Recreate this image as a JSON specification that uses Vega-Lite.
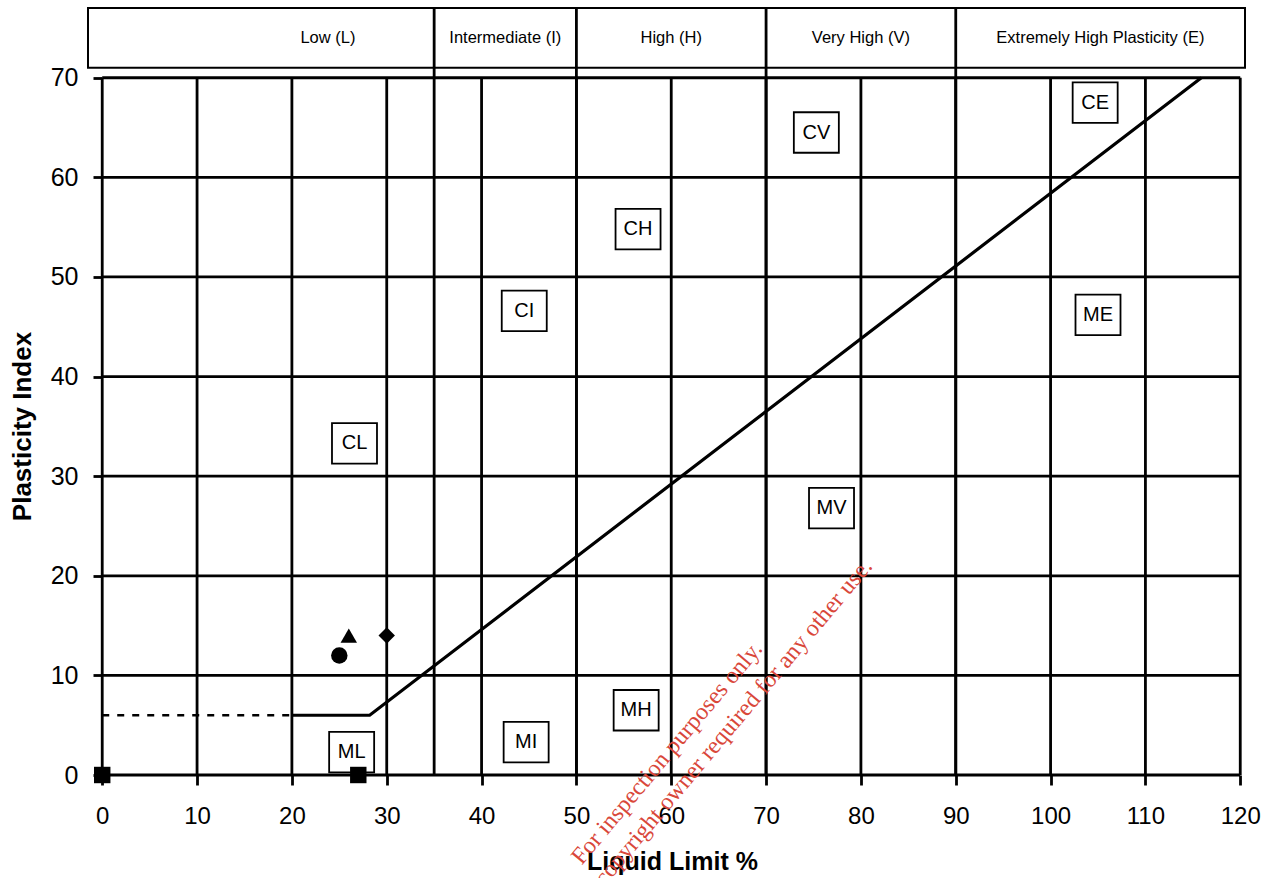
{
  "$schema": "https://vega.github.io/schema/vega-lite/v6.json",
  "width": 1157,
  "height": 767,
  "autosize": {"type": "none"},
  "padding": {"left": 88, "top": 8, "right": 28, "bottom": 103},
  "background": "white",
  "config": {
    "view": {"stroke": null},
    "font": "Liberation Sans",
    "axisX": {
      "domain": false, "grid": false, "ticks": true, "tickSize": 10, "tickWidth": 2.8, "tickColor": "black",
      "labelFont": "Liberation Sans", "labelFontSize": 24, "labelColor": "black", "labelPadding": 19, "labelFlush": false,
      "titleFont": "Liberation Sans", "titleFontSize": 25, "titleFontWeight": "bold", "titleColor": "black",
      "titleX": 584, "titleY": 86, "titleBaseline": "middle", "titleAlign": "center"
    },
    "axisY": {
      "domain": false, "grid": false, "ticks": true, "tickSize": 9, "tickWidth": 2.8, "tickColor": "black", "offset": -14,
      "labelFont": "Liberation Sans", "labelFontSize": 25, "labelColor": "black", "labelPadding": 15, "labelFlush": false,
      "titleFont": "Liberation Sans", "titleFontSize": 26, "titleFontWeight": "bold", "titleColor": "black",
      "titleX": -80, "titleY": 418, "titleBaseline": "middle", "titleAlign": "center", "titleAngle": -90
    }
  },
  "datasets": {
    "vgrid": [{"ll": 0}, {"ll": 10}, {"ll": 20}, {"ll": 30}, {"ll": 40}, {"ll": 50}, {"ll": 60}, {"ll": 70}, {"ll": 80}, {"ll": 90}, {"ll": 100}, {"ll": 110}, {"ll": 120}],
    "hgrid": [{"pi": 0}, {"pi": 10}, {"pi": 20}, {"pi": 30}, {"pi": 40}, {"pi": 50}, {"pi": 60}, {"pi": 70}],
    "bounds": [{"ll": 35}, {"ll": 50}, {"ll": 70}, {"ll": 90}],
    "classes": [
      {"label": "Low (L)", "ll": 23.8},
      {"label": "Intermediate (I)", "ll": 42.5},
      {"label": "High (H)", "ll": 60},
      {"label": "Very High (V)", "ll": 80},
      {"label": "Extremely High Plasticity (E)", "ll": 105.25}
    ],
    "zones": [
      {"code": "CL", "ll": 26.6, "pi": 33.3},
      {"code": "CI", "ll": 44.5, "pi": 46.6},
      {"code": "CH", "ll": 56.5, "pi": 54.8},
      {"code": "CV", "ll": 75.3, "pi": 64.5},
      {"code": "CE", "ll": 104.7, "pi": 67.5},
      {"code": "ME", "ll": 105, "pi": 46.2},
      {"code": "MV", "ll": 76.9, "pi": 26.8},
      {"code": "MH", "ll": 56.3, "pi": 6.5},
      {"code": "MI", "ll": 44.7, "pi": 3.3},
      {"code": "ML", "ll": 26.3, "pi": 2.3}
    ],
    "aline": [{"ll": 20, "pi": 6}, {"ll": 28.2, "pi": 6}, {"ll": 115.9, "pi": 70}],
    "aline_ext": [{"ll": 0, "pi": 6}, {"ll": 20, "pi": 6}],
    "samples": [
      {"sample": "1", "ll": 0, "pi": 0, "shape": "square"},
      {"sample": "2", "ll": 27, "pi": 0, "shape": "square"},
      {"sample": "3", "ll": 25, "pi": 12, "shape": "circle"},
      {"sample": "4", "ll": 26, "pi": 14, "shape": "triangle-up"},
      {"sample": "5", "ll": 30, "pi": 14, "shape": "diamond"}
    ],
    "watermark": [
      {"text": "For inspection purposes only.", "ll": 69.7, "pi": 12.6},
      {"text": "Consent of copyright owner required for any other use.", "ll": 81.3, "pi": 20.9}
    ]
  },
  "layer": [
    {
      "data": {"values": [{"band": "plasticity"}]},
      "mark": {"type": "rect", "fill": "white", "stroke": "black", "strokeWidth": 2},
      "encoding": {
        "x": {"datum": -1.5, "type": "quantitative"},
        "x2": {"datum": 120.5},
        "y": {"datum": 71, "type": "quantitative"},
        "y2": {"datum": 77}
      }
    },
    {
      "data": {"name": "vgrid"},
      "mark": {"type": "rule", "color": "black", "strokeWidth": 2.8},
      "encoding": {
        "x": {"field": "ll", "type": "quantitative",
              "scale": {"domain": [-1.5, 120.5], "nice": false, "zero": false},
              "axis": {"values": [0, 10, 20, 30, 40, 50, 60, 70, 80, 90, 100, 110, 120], "title": "Liquid Limit %"}},
        "y": {"datum": 0, "type": "quantitative"},
        "y2": {"datum": 70}
      }
    },
    {
      "data": {"name": "hgrid"},
      "mark": {"type": "rule", "color": "black", "strokeWidth": 2.8},
      "encoding": {
        "y": {"field": "pi", "type": "quantitative",
              "scale": {"domain": [0, 77], "nice": false, "zero": false},
              "axis": {"values": [0, 10, 20, 30, 40, 50, 60, 70], "title": "Plasticity Index"}},
        "x": {"datum": 0, "type": "quantitative"},
        "x2": {"datum": 120}
      }
    },
    {
      "data": {"name": "bounds"},
      "mark": {"type": "rule", "color": "black", "strokeWidth": 2.8},
      "encoding": {
        "x": {"field": "ll", "type": "quantitative"},
        "y": {"datum": 0, "type": "quantitative"},
        "y2": {"datum": 77}
      }
    },
    {
      "data": {"name": "classes"},
      "mark": {"type": "text", "fontSize": 16.5, "color": "black", "align": "center", "baseline": "middle", "font": "Liberation Sans"},
      "encoding": {
        "x": {"field": "ll", "type": "quantitative"},
        "y": {"datum": 74, "type": "quantitative"},
        "text": {"field": "label"}
      }
    },
    {
      "data": {"name": "aline_ext"},
      "mark": {"type": "line", "color": "black", "strokeWidth": 2.5, "strokeDash": [7, 8]},
      "encoding": {
        "x": {"field": "ll", "type": "quantitative"},
        "y": {"field": "pi", "type": "quantitative"}
      }
    },
    {
      "data": {"name": "aline"},
      "mark": {"type": "line", "color": "black", "strokeWidth": 3.2},
      "encoding": {
        "x": {"field": "ll", "type": "quantitative"},
        "y": {"field": "pi", "type": "quantitative"}
      }
    },
    {
      "data": {"name": "zones"},
      "mark": {"type": "point", "shape": "M-1,-0.9L1,-0.9L1,0.9L-1,0.9Z", "size": 2025, "filled": true, "fill": "white", "stroke": "black", "strokeWidth": 1.8, "opacity": 1},
      "encoding": {
        "x": {"field": "ll", "type": "quantitative"},
        "y": {"field": "pi", "type": "quantitative"}
      }
    },
    {
      "data": {"name": "zones"},
      "mark": {"type": "text", "fontSize": 20, "color": "black", "align": "center", "baseline": "middle", "font": "Liberation Sans"},
      "encoding": {
        "x": {"field": "ll", "type": "quantitative"},
        "y": {"field": "pi", "type": "quantitative"},
        "text": {"field": "code"}
      }
    },
    {
      "data": {"name": "samples"},
      "mark": {"type": "point", "filled": true, "color": "black", "opacity": 1, "size": 270},
      "encoding": {
        "x": {"field": "ll", "type": "quantitative"},
        "y": {"field": "pi", "type": "quantitative"},
        "shape": {"field": "shape", "type": "nominal", "scale": null}
      }
    },
    {
      "data": {"name": "watermark"},
      "mark": {"type": "text", "font": "Liberation Serif", "fontSize": 24, "color": "#d9473a", "align": "right", "baseline": "alphabetic", "angle": 310},
      "encoding": {
        "x": {"field": "ll", "type": "quantitative"},
        "y": {"field": "pi", "type": "quantitative"},
        "text": {"field": "text"}
      }
    }
  ]
}
